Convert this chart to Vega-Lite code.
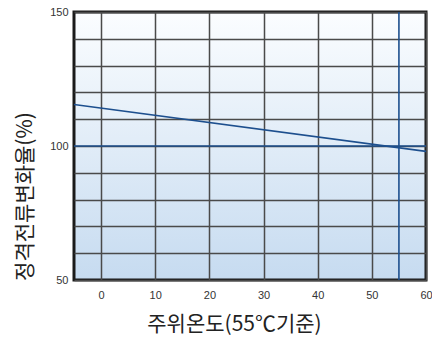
{
  "$schema": "https://vega.github.io/schema/vega-lite/v6.json",
  "width": 352,
  "height": 268,
  "autosize": "none",
  "padding": {"left": 74, "top": 12, "right": 6, "bottom": 61},
  "background": "white",
  "config": {
    "font": "Liberation Sans",
    "view": {
      "stroke": "#1a1a1a",
      "strokeWidth": 3,
      "fill": {"gradient": "linear", "x1": 0, "y1": 0, "x2": 0, "y2": 1, "stops": [{"offset": 0, "color": "#fbfdff"}, {"offset": 1, "color": "#c6dbf0"}]}
    }
  },
  "datasets": {
    "curve": [{"t": -5, "v": 115.5}, {"t": 60, "v": 98}],
    "h": [{"v": 100}],
    "vv": [{"t": 55}]
  },
  "layer": [
    {
      "data": {"name": "curve"},
      "mark": {"type": "line", "color": "#1d4f8e", "strokeWidth": 1.6, "clip": true},
      "encoding": {
        "x": {
          "field": "t", "type": "quantitative",
          "scale": {"domain": [-5, 60], "nice": false, "zero": false},
          "axis": {
            "values": [0, 10, 20, 30, 40, 50, 60],
            "tickCount": 20,
            "grid": true, "gridColor": "#4a4a4a", "gridWidth": 1.5, "gridOpacity": 1,
            "ticks": false, "domain": false, "labelFlush": false,
            "labelFontSize": 11, "labelColor": "#333", "labelPadding": 9,
            "title": "주위온도(55℃기준)",
            "titleFont": "Noto Sans CJK KR", "titleFontSize": 21, "titleFontWeight": "normal", "titleColor": "#222",
            "titleX": 160, "titleY": 44, "titleBaseline": "middle", "titleAlign": "center"
          }
        },
        "y": {
          "field": "v", "type": "quantitative",
          "scale": {"domain": [50, 150], "nice": false, "zero": false},
          "axis": {
            "values": [50, 60, 70, 80, 90, 100, 110, 120, 130, 140, 150],
            "tickCount": 20,
            "labelExpr": "datum.value % 50 == 0 ? datum.label : ''",
            "grid": true, "gridColor": "#4a4a4a", "gridWidth": 1.5, "gridOpacity": 1,
            "ticks": false, "domain": false, "labelFlush": false,
            "labelFontSize": 11, "labelColor": "#333", "labelPadding": 6,
            "title": "정격전류변화율(%)",
            "titleFont": "Noto Sans CJK KR", "titleFontSize": 21, "titleFontWeight": "normal", "titleColor": "#222",
            "titleX": -49, "titleY": 184, "titleAngle": -90, "titleBaseline": "middle", "titleAlign": "center"
          }
        }
      }
    },
    {
      "data": {"name": "h"},
      "mark": {"type": "rule", "color": "#1d4f8e", "strokeWidth": 1.6},
      "encoding": {"y": {"field": "v", "type": "quantitative"}}
    },
    {
      "data": {"name": "vv"},
      "mark": {"type": "rule", "color": "#1d4f8e", "strokeWidth": 1.6},
      "encoding": {"x": {"field": "t", "type": "quantitative"}}
    }
  ]
}
